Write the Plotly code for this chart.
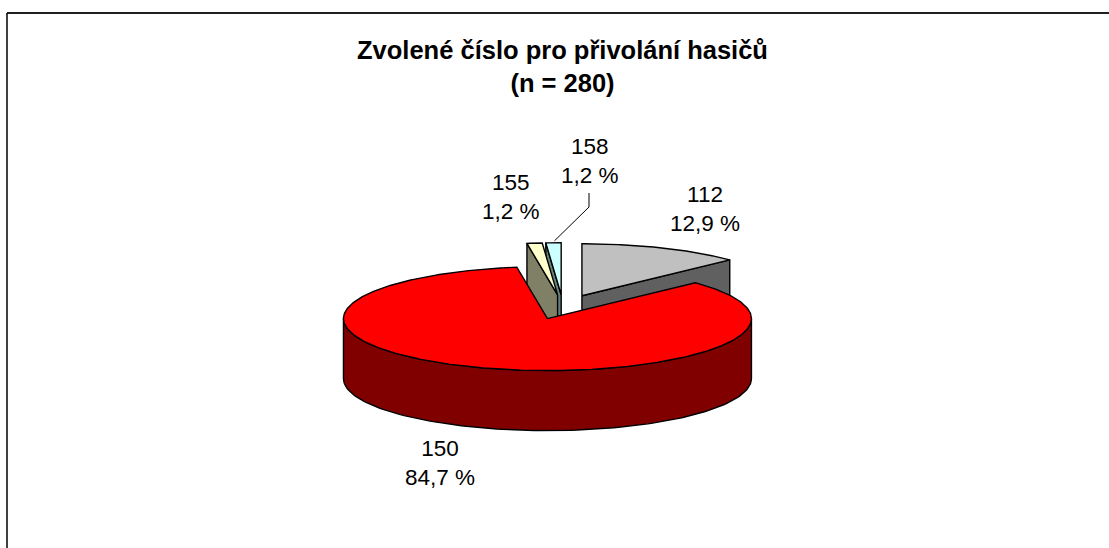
import numpy as np
import plotly.graph_objects as go

# ---- data ----
categories = ["112", "150", "155", "158"]
shares = [12.9, 84.7, 1.2, 1.2]
top_colors = ["#C0C0C0", "#FF0000", "#FFFFCC", "#CCFFFF"]
side_colors = ["#606060", "#800000", "#808066", "#668080"]
title_lines = ["Zvolené číslo pro přivolání hasičů", "(n = 280)"]

# ---- geometry (pixel space of the page) ----
W, H = 1109, 548
CX, CY = 563.0, 307.0      # pie centre (before explosion)
A, B = 204.0, 52.0         # ellipse radii of the top surface
DEPTH = 60.0               # thickness of the pie
EXPLODE = 48.0             # explosion distance (in x-radius units)

# label block centres (x, y) per category
label_pos = {"112": (705, 209), "150": (440, 463), "155": (511, 197), "158": (590, 161)}

fig = go.Figure()


def rim(cx, cy, th):
    r = np.radians(th)
    return cx + A * np.sin(r), cy - B * np.cos(r)


def add_poly(xs, ys, color):
    fig.add_trace(go.Scatter(
        x=list(xs) + [xs[0]], y=list(ys) + [ys[0]], mode="lines",
        fill="toself", fillcolor=color,
        line=dict(color="black", width=1.4),
        hoverinfo="skip", showlegend=False))


total = sum(shares)
slices = []
acc = 0.0
for cat, v, tc, sc in zip(categories, shares, top_colors, side_colors):
    s = acc / total * 360.0
    acc += v
    e = acc / total * 360.0
    mid = np.radians((s + e) / 2)
    cx = CX + EXPLODE * np.sin(mid)
    cy = CY - EXPLODE * (B / A) * np.cos(mid)
    slices.append(dict(cat=cat, v=v, s=s, e=e, cx=cx, cy=cy, tc=tc, sc=sc))

# painter's order: back slices first
for sl in sorted(slices, key=lambda d: d["cy"]):
    s, e, cx, cy = sl["s"], sl["e"], sl["cx"], sl["cy"]
    # radial cut faces
    for th, vis in ((s, np.sin(np.radians(s)) < -1e-6), (e, np.sin(np.radians(e)) > 1e-6)):
        if vis:
            rx, ry = rim(cx, cy, th)
            add_poly([cx, rx, rx, cx], [cy, ry, ry + DEPTH, cy + DEPTH], sl["sc"])
    # outer curved side (front half only)
    lo, hi = max(s, 90.0), min(e, 270.0)
    if hi > lo:
        ths = np.linspace(lo, hi, 120)
        tx, ty = rim(cx, cy, ths)
        xs = np.concatenate([tx, tx[::-1]])
        ys = np.concatenate([ty, (ty + DEPTH)[::-1]])
        add_poly(xs, ys, sl["sc"])
    # top surface
    n = max(4, int((e - s) * 1.5))
    ths = np.linspace(s, e, n)
    tx, ty = rim(cx, cy, ths)
    add_poly(np.concatenate([[cx], tx]), np.concatenate([[cy], ty]), sl["tc"])

# data labels
for sl in slices:
    lx, ly = label_pos[sl["cat"]]
    txt = sl["cat"] + "<br>" + f"{sl['v']:.1f}".replace(".", ",") + " %"
    fig.add_annotation(x=lx, y=ly, text=txt, showarrow=False, xref="x", yref="y",
                       font=dict(family="Liberation Sans, Arial", size=22.5, color="black"),
                       align="center")

# leader line for the 158 label
sl158 = [d for d in slices if d["cat"] == "158"][0]
ex, ey = rim(sl158["cx"], sl158["cy"], (sl158["s"] + sl158["e"]) / 2)
lx, ly = label_pos["158"]
fig.add_trace(go.Scatter(x=[lx - 1, lx - 1, ex + 1], y=[ly + 32, ly + 46, ey - 2], mode="lines",
                         line=dict(color="black", width=1), hoverinfo="skip", showlegend=False))

# title
fig.add_annotation(x=562, y=66, xref="x", yref="y", showarrow=False,
                   text="<b>" + title_lines[0] + "</b><br><b>" + title_lines[1] + "</b>",
                   font=dict(family="Liberation Sans, Arial", size=25.5, color="black"),
                   align="center")

# chart frame (page border lines)
fig.add_shape(type="line", x0=7, x1=W, y0=13, y1=13, xref="x", yref="y",
              line=dict(color="#202020", width=2))
fig.add_shape(type="line", x0=7, x1=7, y0=13, y1=H, xref="x", yref="y",
              line=dict(color="black", width=1.5))

fig.update_xaxes(range=[0, W], visible=False, fixedrange=True)
fig.update_yaxes(range=[H, 0], visible=False, fixedrange=True)
fig.update_layout(width=W, height=H, autosize=False,
                  margin=dict(l=0, r=0, t=0, b=0),
                  plot_bgcolor="white", paper_bgcolor="white")

fig.write_html("out.html", config={"displayModeBar": False},
               post_script="document.body.style.margin='0px';document.body.style.overflow='hidden';")
